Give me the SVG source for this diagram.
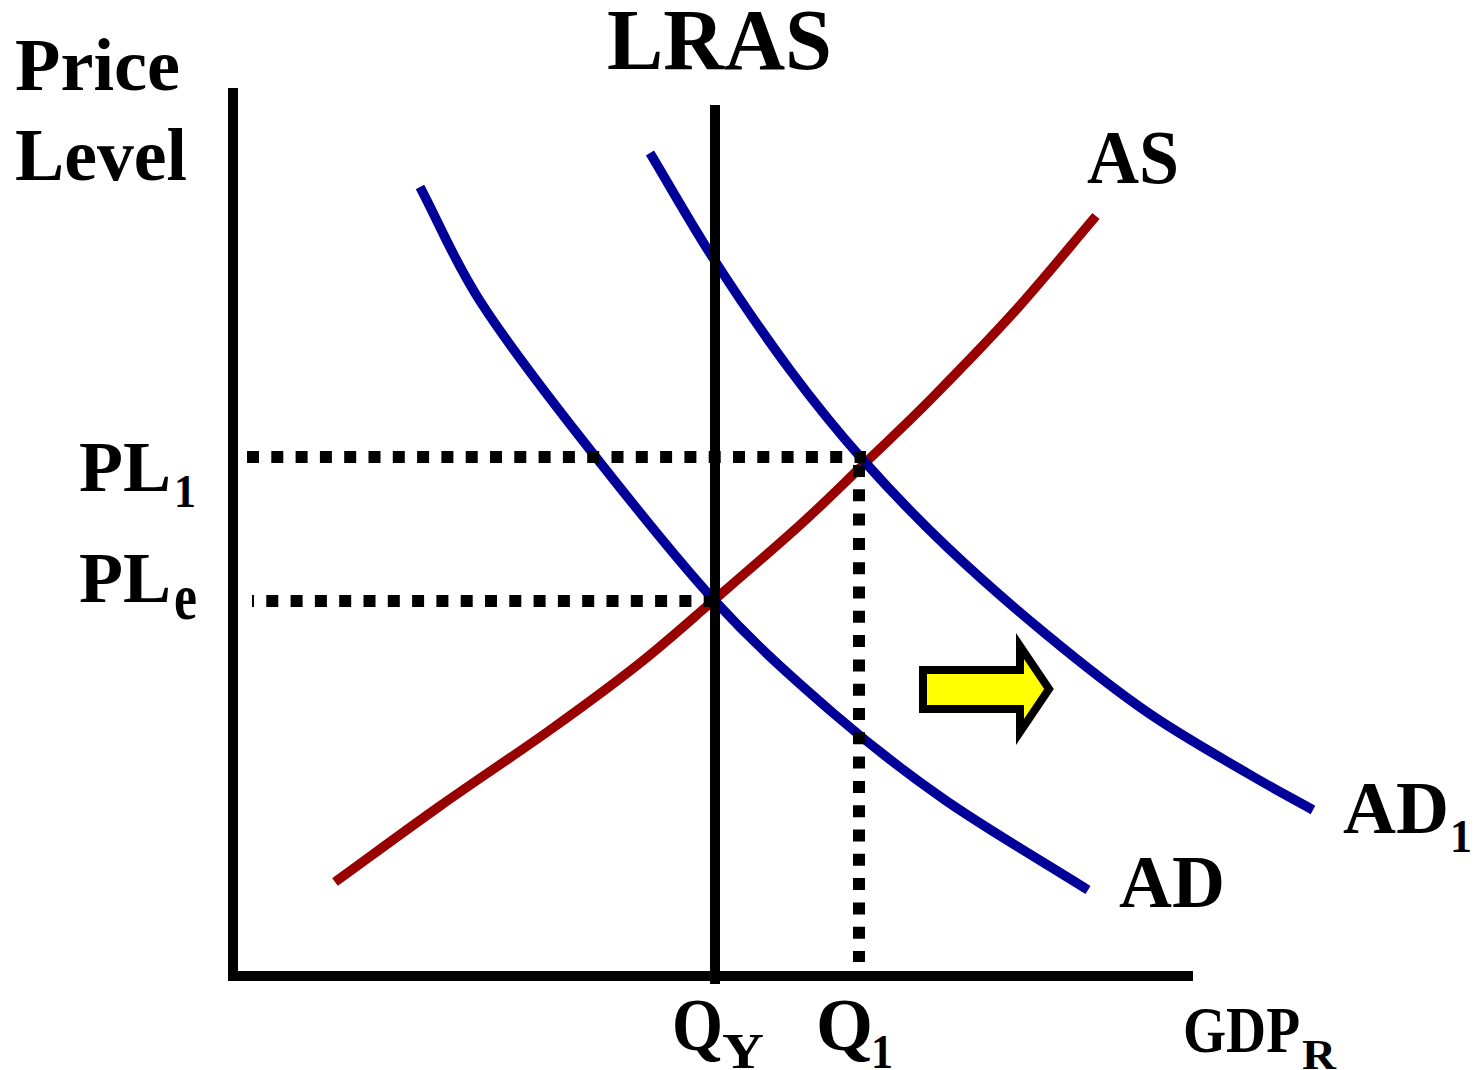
<svg xmlns="http://www.w3.org/2000/svg" width="1478" height="1070" viewBox="0 0 1478 1070">
<style>
  .t { font-family: "Liberation Serif", "Times New Roman", serif; font-weight: bold; fill: #000; }
  .curve { fill: none; stroke-linejoin: round; stroke-linecap: butt; stroke-width: 9.5; }
  .as { stroke: #990000; }
  .ad { stroke: #000099; }
  .dot { fill: none; stroke: #000; stroke-width: 12; stroke-dasharray: 12 12.3; }
  .axis { fill: none; stroke: #000; stroke-width: 10; }
</style>
<rect width="1478" height="1070" fill="#fff"/>

<g id="curves">
  <path id="as-curve" class="curve as" d="M335,882 C370,856.7 404.2,831.3 440,806 C475.8,780.7 516.7,753.8 550,730 C583.3,706.2 612.7,684.7 640,663 C667.3,641.3 687.3,623 714,600 C740.7,577 775.2,547.5 800,525 C824.8,502.5 840.8,486.3 863,465 C885.2,443.7 907.7,422.7 933,397 C958.3,371.3 987.8,341.2 1015,311 C1042.2,280.8 1069,247.7 1096,216"/>
  <path id="ad-curve" class="curve ad" d="M420,187 C440,225 453.3,259.3 480,301 C506.7,342.7 541,387.2 580,437 C619,486.8 671.8,554 714,600 C756.2,646 794.5,679.7 833,713 C871.5,746.3 902.5,770.5 945,800 C987.5,829.5 1040.3,860 1088,890"/>
  <path id="ad1-curve" class="curve ad" d="M650,153 C671,188 689.7,221.8 713,258 C736.3,294.2 765,336.3 790,370 C815,403.7 836.8,430.5 863,460 C889.2,489.5 916.3,517.8 947,547 C977.7,576.2 1013.7,607.5 1047,635 C1080.3,662.5 1113.7,689 1147,712 C1180.3,735 1219.3,756.7 1247,773 C1274.7,789.3 1291,797.7 1313,810"/>
</g>

<g id="guides">
  <line class="dot" x1="247" y1="457" x2="866" y2="457"/>
  <line class="dot" x1="252" y1="601" x2="716" y2="601" stroke-dashoffset="10"/>
  <line class="dot" x1="859" y1="465" x2="859" y2="962"/>
</g>

<g id="axes">
  <line class="axis" x1="233" y1="88" x2="233" y2="981"/>
  <line class="axis" x1="228" y1="976" x2="1193" y2="976"/>
  <line id="lras" class="axis" x1="715" y1="105" x2="715" y2="984"/>
</g>

<g id="shift-arrow">
  <polygon points="923,670 1020,670 1020,646 1049,689 1020,732 1020,709 923,709" fill="#ffff00" stroke="#000" stroke-width="8" stroke-linejoin="miter"/>
</g>

<g id="labels">
  <text class="t" x="15" y="90" font-size="73" textLength="165" lengthAdjust="spacingAndGlyphs">Price</text>
  <text class="t" x="15" y="180" font-size="73" textLength="172" lengthAdjust="spacingAndGlyphs">Level</text>
  <text class="t" x="607" y="69" font-size="86" textLength="225" lengthAdjust="spacingAndGlyphs">LRAS</text>
  <text class="t" x="1087" y="183" font-size="77" textLength="92" lengthAdjust="spacingAndGlyphs">AS</text>
  <text class="t" x="79" y="491" font-size="72" textLength="92" lengthAdjust="spacingAndGlyphs">PL</text>
  <text class="t" x="174" y="507" font-size="46" textLength="22" lengthAdjust="spacingAndGlyphs">1</text>
  <text class="t" x="79" y="602" font-size="72" textLength="92" lengthAdjust="spacingAndGlyphs">PL</text>
  <text class="t" x="174" y="619" font-size="66" textLength="23" lengthAdjust="spacingAndGlyphs">e</text>
  <text class="t" x="1119" y="907" font-size="75" textLength="106" lengthAdjust="spacingAndGlyphs">AD</text>
  <text class="t" x="1343" y="833" font-size="75" textLength="106" lengthAdjust="spacingAndGlyphs">AD</text>
  <text class="t" x="1450" y="852" font-size="46" textLength="22" lengthAdjust="spacingAndGlyphs">1</text>
  <text class="t" x="672" y="1050" font-size="75" textLength="51" lengthAdjust="spacingAndGlyphs">Q</text>
  <text class="t" x="722" y="1068" font-size="50" textLength="42" lengthAdjust="spacingAndGlyphs">Y</text>
  <text class="t" x="816" y="1050" font-size="75" textLength="57" lengthAdjust="spacingAndGlyphs">Q</text>
  <text class="t" x="871" y="1068" font-size="48" textLength="22" lengthAdjust="spacingAndGlyphs">1</text>
  <text class="t" x="1183" y="1052" font-size="65" textLength="117" lengthAdjust="spacingAndGlyphs">GDP</text>
  <text class="t" x="1302" y="1069" font-size="42" textLength="34" lengthAdjust="spacingAndGlyphs">R</text>
</g>
</svg>
